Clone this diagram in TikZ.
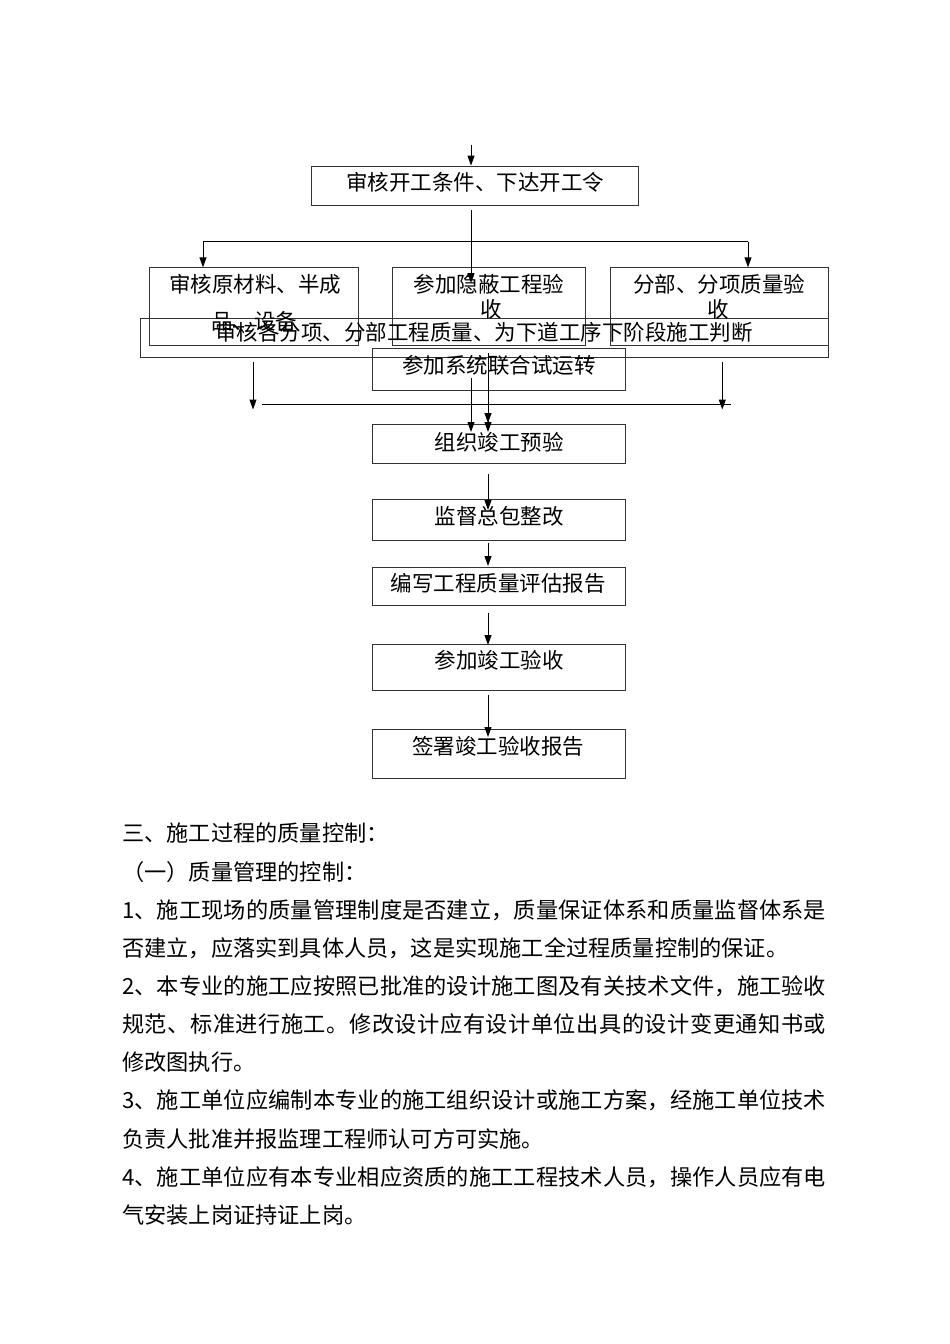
\documentclass[tikz,border=0pt]{standalone}
\usepackage{fontspec}
\setmainfont{Noto Sans CJK SC}
\usetikzlibrary{arrows.meta}
\def\spreadchars#1#2\relax{#1\spreadaux#2\relax}
\def\spreadaux#1{\ifx#1\relax\else\hfil#1\expandafter\spreadaux\fi}
\newcommand\fullline[1]{\makebox[704pt][s]{\spreadchars#1\relax}}
\begin{document}
\begin{tikzpicture}[x=1pt,y=-1pt,
  box/.style={draw=black!80,line width=0.8pt,inner sep=0pt},
  lbl/.style={inner sep=0pt,font=\fontsize{21.5pt}{26pt}\selectfont},
  body/.style={inner sep=0pt,anchor=west,font=\fontsize{22.2pt}{26pt}\selectfont},
  conn/.style={line width=1pt,black},
  arr/.style={conn,-{Triangle[length=10pt,width=7pt]}}]
\useasboundingbox (0,0) rectangle (950,1344);
% boxes
\node[box,minimum width=326.3pt,minimum height=39pt] (b1) at (474.85,185.5) {};
\node[box,minimum width=209.7pt,minimum height=77.3pt] (bL) at (253.85,306.35) {};
\node[box,minimum width=192.7pt,minimum height=77.3pt] (bM) at (488.65,306.35) {};
\node[box,minimum width=218pt,minimum height=77.3pt] (bR) at (719,306.35) {};
\node[box,minimum width=687.6pt,minimum height=39pt] (bW) at (484.5,337.8) {};
\node[box,minimum width=253.4pt,minimum height=42.4pt] (bS) at (499,369.5) {};
\node[box,minimum width=252.3pt,minimum height=39.3pt] (b5) at (498.85,443.65) {};
\node[box,minimum width=252.3pt,minimum height=40.7pt] (b6) at (498.85,519.65) {};
\node[box,minimum width=252.3pt,minimum height=38pt] (b7) at (498.85,586) {};
\node[box,minimum width=252.3pt,minimum height=46pt] (b8) at (498.85,667) {};
\node[box,minimum width=252.3pt,minimum height=49pt] (b9) at (498.85,753.8) {};
% box texts
\node[lbl] (t1) at (475,182) {审核开工条件、下达开工令};
\node[lbl] (tL1) at (255,284) {审核原材料、半成};
\node[lbl] (tL2) at (254,321) {品、设备};
\node[lbl] (tM1) at (489,284) {参加隐蔽工程验};
\node[lbl] (tM2) at (491,309) {收};
\node[lbl] (tR1) at (719,284) {分部、分项质量验};
\node[lbl] (tR2) at (718,309) {收};
\node[lbl] (tW) at (484,332) {审核各分项、分部工程质量、为下道工序下阶段施工判断};
\node[lbl] (tS) at (499,365) {参加系统联合试运转};
\node[lbl] (t5) at (499,442.7) {组织竣工预验};
\node[lbl] (t6) at (499,516.7) {监督总包整改};
\node[lbl] (t7) at (498,583.3) {编写工程质量评估报告};
\node[lbl] (t8) at (499,660) {参加竣工验收};
\node[lbl] (t9) at (498,746.7) {签署竣工验收报告};
% connector coordinates
\coordinate (c0) at (471,145);
\coordinate (c1) at (471,210);
\coordinate (c2) at (471,283);
\coordinate (hL) at (203,241.7);
\coordinate (hR) at (748,241.7);
\coordinate (d1) at (253,361.7);
\coordinate (d1e) at (253,409.5);
\coordinate (d2) at (722.3,361.7);
\coordinate (d2e) at (722.3,409.5);
\coordinate (gL) at (262.3,404);
\coordinate (gR) at (730.7,404);
\coordinate (s1) at (471,378);
\coordinate (s1e) at (471,432);
\coordinate (s2) at (488,353);
\coordinate (s2e) at (488,423);
\coordinate (s3) at (488,360);
\coordinate (s3e) at (488,432);
\coordinate (a1) at (488,474);
\coordinate (a1e) at (488,510);
\coordinate (a2) at (488,543);
\coordinate (a2e) at (488,566);
\coordinate (a3) at (488,613);
\coordinate (a3e) at (488,645);
\coordinate (a4) at (488,695);
\coordinate (a4e) at (488,737);
% connectors
\draw[arr] (c0) -- (c0 |- b1.north);
\draw[arr] (c1) -- (c2);
\draw[conn] (hL) -- (hR);
\draw[arr] (hL) -- (hL |- bL.north);
\draw[arr] (hR) -- (hR |- bR.north);
\draw[arr] (d1) -- (d1e);
\draw[arr] (d2) -- (d2e);
\draw[conn] (gL) -- (gR);
\draw[arr] (s1) -- (s1e);
\draw[arr] (s2) -- (s2e);
\draw[arr] (s3) -- (s3e);
\draw[arr] (a1) -- (a1e);
\draw[arr] (a2) -- (a2e);
\draw[arr] (a3) -- (a3e);
\draw[arr] (a4) -- (a4e);
% body text
\node[body] (p0) at (122,833.5) {三、施工过程的质量控制：};
\node[body] (p1) at (122,871.7) {（一）质量管理的控制：};
\node[body] (p2) at (122,909.8) {\fullline{1、施工现场的质量管理制度是否建立，质量保证体系和质量监督体系是}};
\node[body] (p3) at (122,948) {否建立，应落实到具体人员，这是实现施工全过程质量控制的保证。};
\node[body] (p4) at (122,986.1) {\fullline{2、本专业的施工应按照已批准的设计施工图及有关技术文件，施工验收}};
\node[body] (p5) at (122,1024.3) {\fullline{规范、标准进行施工。修改设计应有设计单位出具的设计变更通知书或}};
\node[body] (p6) at (122,1062.4) {修改图执行。};
\node[body] (p7) at (122,1100.6) {\fullline{3、施工单位应编制本专业的施工组织设计或施工方案，经施工单位技术}};
\node[body] (p8) at (122,1138.7) {负责人批准并报监理工程师认可方可实施。};
\node[body] (p9) at (122,1176.9) {\fullline{4、施工单位应有本专业相应资质的施工工程技术人员，操作人员应有电}};
\node[body] (p10) at (122,1215) {气安装上岗证持证上岗。};
\end{tikzpicture}
\end{document}
